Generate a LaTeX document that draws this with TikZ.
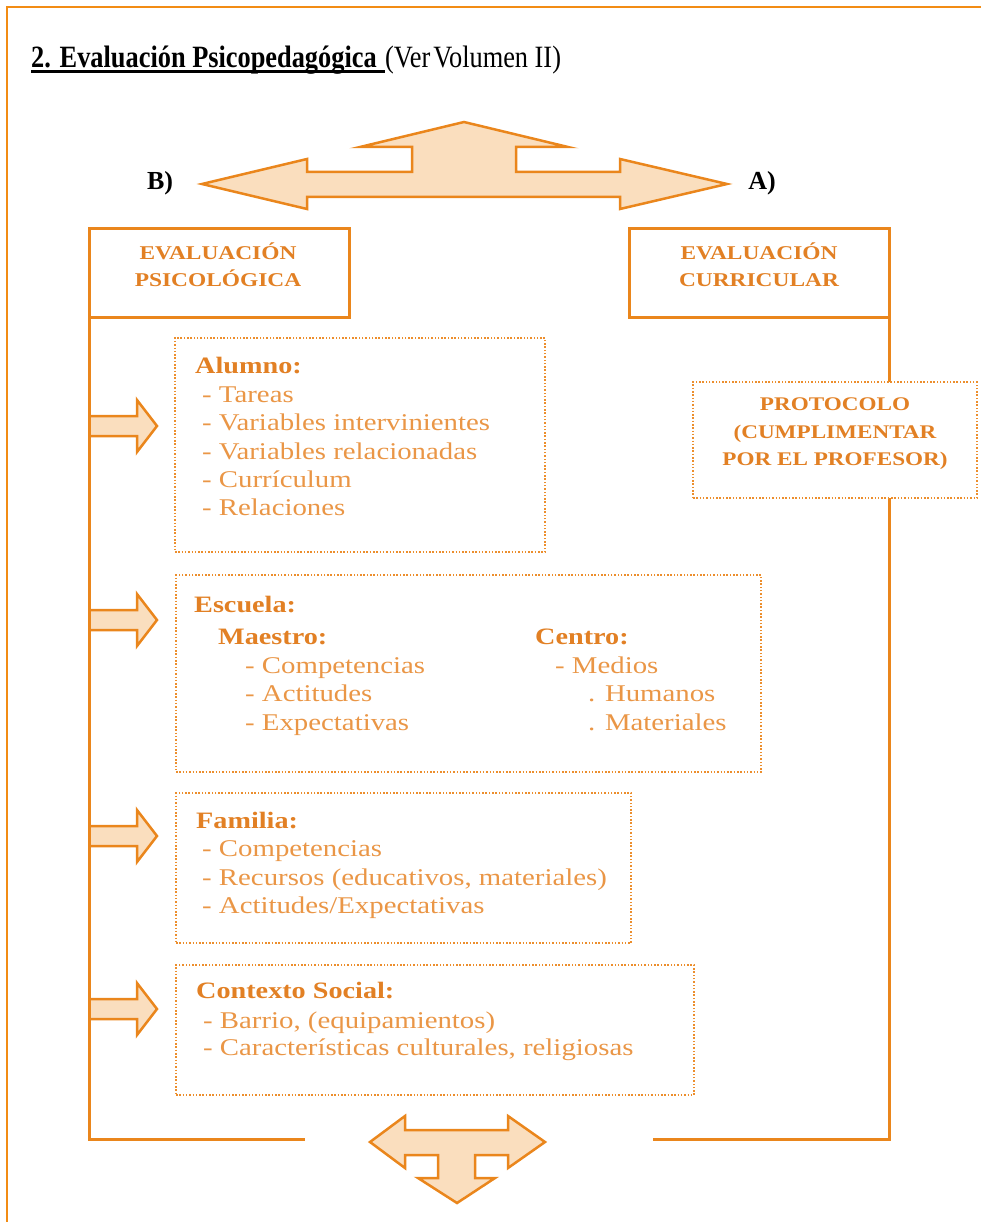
\documentclass[tikz,border=0pt]{standalone}
\usepackage{fontspec}
\setmainfont{Liberation Serif}
\newfontfamily\wideserif[FakeStretch=1.2]{Liberation Serif}
\newfontfamily\narrowserif[FakeStretch=0.85]{Liberation Serif}
\definecolor{lineorange}{RGB}{234,134,28}
\definecolor{dotorange}{RGB}{236,142,45}
\definecolor{peach}{RGB}{250,222,190}
\definecolor{textorange}{RGB}{226,128,36}
\definecolor{itemorange}{RGB}{234,150,70}
\definecolor{pageorange}{RGB}{242,140,20}
\begin{document}
\begin{tikzpicture}[x=1pt,y=-1pt,
  frameline/.style={draw=lineorange, line width=3pt},
  pageline/.style={draw=pageorange, line width=1.5pt},
  hdrbox/.style={draw=lineorange, line width=3pt, fill=white, anchor=north west, inner sep=0pt, outer sep=0pt},
  dotbox/.style={draw=dotorange, line width=2pt, dash pattern=on 1.5pt off 1.8pt, fill=white, anchor=north west, inner sep=0pt, outer sep=0pt},
  fatarrow/.style={draw=lineorange, line width=2.5pt, fill=peach, line join=miter},
  hdrtext/.style={anchor=base, inner sep=0pt, text=textorange, font=\wideserif\bfseries\fontsize{19.5}{24}\selectfont},
  protext/.style={anchor=base, inner sep=0pt, text=textorange, font=\wideserif\bfseries\fontsize{19.3}{24}\selectfont},
  headtext/.style={anchor=base west, inner sep=0pt, text=textorange, font=\wideserif\bfseries\fontsize{23.5}{28}\selectfont},
  itemtext/.style={anchor=base west, inner sep=0pt, text=itemorange, font=\wideserif\fontsize{24}{28}\selectfont},
  lab/.style={anchor=base, inner sep=0pt, font=\bfseries\fontsize{26}{30}\selectfont},
  sidearrow/.pic={\draw[fatarrow] (0,-10) -- (48,-10) -- (48,-26) -- (68,0) -- (48,26) -- (48,10) -- (0,10);}
]
\useasboundingbox (0,0) rectangle (981,1222);

% page border
\draw[pageline] (7,1222) -- (7,7) -- (981,7);

% title
\node[anchor=base west, inner sep=0pt, font=\narrowserif\bfseries\fontsize{31}{36}\selectfont] (titleb) at (31,68) {2. Evaluación Psicopedagógica\kern8pt};
\node[anchor=base west, inner sep=0pt, font=\narrowserif\fontsize{31}{36}\selectfont] (titler) at (titleb.base east) {(Ver\kern3pt Volumen II)};
\draw[line width=3pt] ([yshift=-4pt]titleb.base west) -- ([yshift=-4pt]titleb.base east);

% top triple arrow
\draw[fatarrow] (202,184) -- (307,159) -- (307,172) -- (412,172) -- (412,147) -- (360,147)
  -- (464,122) -- (568,147) -- (516,147) -- (516,172) -- (620,172) -- (620,159)
  -- (727,184) -- (620,209) -- (620,197) -- (307,197) -- (307,209) -- cycle;
\node[lab] (labB) at (160,190) {B)};
\node[lab] (labA) at (762,190) {A)};

% side arrows (drawn before frame so the frame covers their roots)
\pic at (89,426) {sidearrow};
\pic at (89,620) {sidearrow};
\pic at (89,836) {sidearrow};
\pic at (89,1009) {sidearrow};

% frame
\node[hdrbox, minimum width=260pt, minimum height=88pt] (hdrL) at (89,229) {};
\node[hdrbox, minimum width=260pt, minimum height=88pt] (hdrR) at (629,229) {};
\coordinate (bl) at (89,1139);
\coordinate (blend) at (305,1139);
\coordinate (br) at (889,1139);
\coordinate (brend) at (653,1139);
\draw[frameline] (hdrL.south west) -- (bl) -- (blend);
\draw[frameline] (hdrR.south east) -- (br) -- (brend);

\node[hdrtext] (hdrLa) at (218,259.5) {EVALUACIÓN};
\node[hdrtext] (hdrLb) at (218,286.5) {PSICOLÓGICA};
\node[hdrtext] (hdrRa) at (759,259.5) {EVALUACIÓN};
\node[hdrtext] (hdrRb) at (759,286.5) {CURRICULAR};

% bottom T arrow
\draw[fatarrow] (370,1142) -- (405,1116) -- (405,1130) -- (508,1130) -- (508,1116) -- (545,1142)
  -- (508,1168) -- (508,1155) -- (475,1155) -- (475,1178) -- (495,1178) -- (457,1203)
  -- (418,1178) -- (438,1178) -- (438,1155) -- (405,1155) -- (405,1168) -- cycle;

% protocolo
\node[dotbox, minimum width=284pt, minimum height=116pt] (proto) at (693,382) {};
\node[protext] (protoa) at (835,410) {PROTOCOLO};
\node[protext] (protob) at (835,438) {(CUMPLIMENTAR};
\node[protext] (protoc) at (835,465) {POR EL PROFESOR)};

% alumno
\node[dotbox, minimum width=370pt, minimum height=214pt] (alumno) at (175,338) {};
\node[headtext] (alh) at (195,373) {Alumno:};
\node[itemtext] (al1) at (202,402) {- Tareas};
\node[itemtext] (al2) at (202,430) {- Variables intervinientes};
\node[itemtext] (al3) at (202,459) {- Variables relacionadas};
\node[itemtext] (al4) at (202,487) {- Currículum};
\node[itemtext] (al5) at (202,515) {- Relaciones};

% escuela
\node[dotbox, minimum width=585pt, minimum height=197pt] (escuela) at (176,575) {};
\node[headtext] (esh) at (194,612) {Escuela:};
\node[headtext] (esm) at (218,644) {Maestro:};
\node[headtext] (esc) at (535,644) {Centro:};
\node[itemtext] (es1) at (245,673) {- Competencias};
\node[itemtext] (es2) at (245,701) {- Actitudes};
\node[itemtext] (es3) at (245,730) {- Expectativas};
\node[itemtext] (es4) at (555,673) {- Medios};
\node[itemtext] (es5) at (588,701) {. Humanos};
\node[itemtext] (es6) at (588,730) {. Materiales};

% familia
\node[dotbox, minimum width=455pt, minimum height=150pt] (familia) at (176,793) {};
\node[headtext] (fah) at (196,828) {Familia:};
\node[itemtext] (fa1) at (202,856) {- Competencias};
\node[itemtext] (fa2) at (202,885) {- Recursos (educativos, materiales)};
\node[itemtext] (fa3) at (202,913) {- Actitudes/Expectativas};

% contexto social
\node[dotbox, minimum width=518pt, minimum height=130pt] (contexto) at (176,965) {};
\node[headtext] (coh) at (196,998) {Contexto Social:};
\node[itemtext] (co1) at (203,1028) {- Barrio, (equipamientos)};
\node[itemtext] (co2) at (203,1055) {- Características culturales, religiosas};
\end{tikzpicture}
\end{document}
